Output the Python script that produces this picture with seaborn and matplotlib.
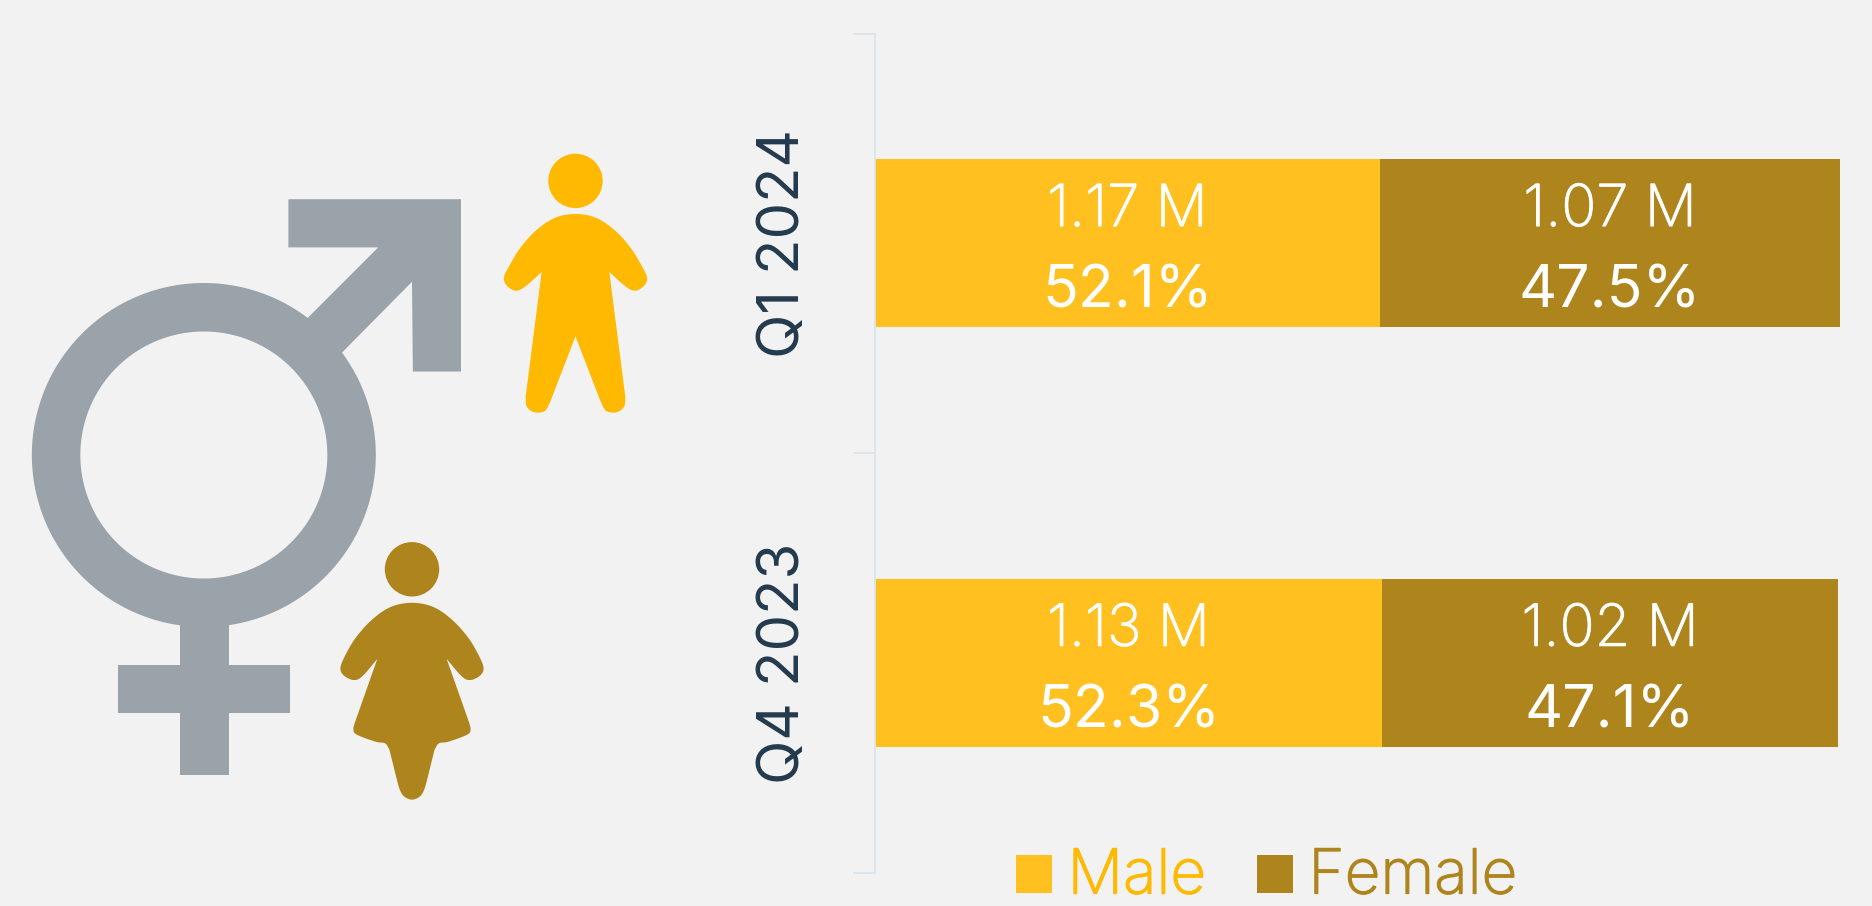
import numpy as np
import pandas as pd
import matplotlib
matplotlib.use("Agg")
import matplotlib.pyplot as plt
import matplotlib.patheffects as pe
from matplotlib.patches import Patch, Polygon, Circle, PathPatch
from matplotlib.path import Path
import seaborn as sns

periods = ["Q1 2024", "Q4 2023"]
male_pct = [52.1, 52.3]
female_pct = [47.5, 47.1]
male_m = [1.17, 1.13]
female_m = [1.07, 1.02]

BG = "#F2F2F2"
MALE = "#FFC020"
FEMALE = "#AE841C"
ICON_MALE = "#FFB900"
GREY = "#9BA3AA"
DARK = "#23394D"
AXIS = "#DAE5EE"
W, H = 1872, 906

sns.set_theme(style="white", rc={"figure.facecolor": BG, "axes.facecolor": "none"})
plt.rcParams["font.family"] = ["Inter", "DejaVu Sans"]
pt = lambda px: px * 0.72

fig = plt.figure(figsize=(W / 100, H / 100), dpi=100, facecolor=BG)

# ---- decoration layer, in pixel coordinates ----
deco = fig.add_axes([0, 0, 1, 1], zorder=0)
deco.set_xlim(0, W)
deco.set_ylim(H, 0)
deco.axis("off")

ZX, ZY = 680 / 1568, 700 / 1568
def zp(pts):
    a = np.asarray(pts, float)
    return np.c_[a[:, 0] * ZX, 130 + a[:, 1] * ZY]

def spline(pts, n=14, start=None, end=None):
    p = np.asarray(pts, float)
    if len(p) < 2:
        return p
    first = 2 * p[0] - p[1] if start is None else np.asarray(start, float)
    last = 2 * p[-1] - p[-2] if end is None else np.asarray(end, float)
    q = np.vstack([first, p, last])
    out = []
    for i in range(1, len(q) - 2):
        for t in np.linspace(0, 1, n, endpoint=False):
            out.append(0.5 * ((2 * q[i]) + (-q[i - 1] + q[i + 1]) * t
                       + (2 * q[i - 1] - 5 * q[i] + 4 * q[i + 1] - q[i + 2]) * t ** 2
                       + (-q[i - 1] + 3 * q[i] - 3 * q[i + 1] + q[i + 2]) * t ** 3))
    out.append(p[-1])
    return np.array(out)

def person(cx, segments, head_y, color, smooth_end=False):
    parts = []
    for k, s in enumerate(segments):
        st = (2 * cx - s[1][0], s[1][1]) if k == 0 else None
        en = (2 * cx - s[-2][0], s[-2][1]) if (smooth_end and k == len(segments) - 1) else None
        parts.append(spline(s, start=st, end=en))
    half = np.vstack(parts)
    mirror = half[::-1].copy()
    mirror[:, 0] = 2 * cx - mirror[:, 0]
    deco.add_patch(Polygon(zp(np.vstack([half, mirror])), closed=True, fc=color, ec="none"))
    c = zp([[cx, head_y]])[0]
    deco.add_patch(Circle(c, 27.2, fc=color, ec="none"))

# gender symbol: ring, arrow, cross
ring_c = zp([[470, 728]])[0]
t = np.linspace(0, 2 * np.pi, 240)
outer = np.c_[ring_c[0] + 172 * np.cos(t), ring_c[1] + 172 * np.sin(t)]
inner = np.c_[ring_c[0] + 123.5 * np.cos(-t), ring_c[1] + 123.5 * np.sin(-t)]
deco.add_patch(PathPatch(Path.make_compound_path(Path(outer, closed=True), Path(inner, closed=True)),
                         fc=GREY, ec="none"))
deco.add_patch(Polygon(zp([(665, 155), (1063, 155), (1063, 541), (952, 541), (950, 340), (775, 512),
                           (695, 435), (872, 263), (665, 263)]), closed=True, fc=GREY, ec="none"))
deco.add_patch(Polygon(zp([(415, 1090), (527, 1090), (527, 1198), (668, 1198), (668, 1306), (527, 1306),
                           (527, 1445), (415, 1445), (415, 1306), (272, 1306), (272, 1198), (415, 1198)]),
                       closed=True, fc=GREY, ec="none"))

person(1327, [[(1327, 188), (1375, 197), (1418, 225), (1455, 265), (1480, 305), (1492, 330), (1486, 348),
               (1465, 360), (1442, 350), (1405, 318)],
              [(1442, 598), (1440, 618), (1428, 630), (1412, 633), (1396, 628), (1384, 606)],
              [(1327, 462)]], 114, ICON_MALE)
person(950, [[(950, 1059), (998, 1068), (1040, 1095), (1078, 1135), (1103, 1175), (1115, 1205), (1107, 1222),
              (1085, 1232), (1065, 1224), (1030, 1185)],
             [(1082, 1328), (1085, 1342), (1078, 1354), (1035, 1370), (1012, 1374), (1002, 1388)],
             [(985, 1455), (978, 1478), (968, 1493), (950, 1500)]], 984, FEMALE, smooth_end=True)

# ---- chart ----
x0, x1, y_top, y_bot = 875, W, 33.5, 873
ax = fig.add_axes([x0 / W, 1 - y_bot / H, (x1 - x0) / W, (y_bot - y_top) / H], zorder=1)

df = pd.DataFrame({"period": periods, "Male": male_pct, "Female": female_pct})
df["total"] = df["Male"] + df["Female"]
sns.barplot(data=df, y="period", x="total", color=FEMALE, saturation=1, width=0.4, linewidth=0, ax=ax)
sns.barplot(data=df, y="period", x="Male", color=MALE, saturation=1, width=0.4, linewidth=0, ax=ax)

ax.set_xlim(0, (x1 - x0) / 9.69)
ax.set_ylim(1.5, -0.5)
ax.set_xlabel("")
ax.set_ylabel("")
ax.xaxis.set_visible(False)
for s in ["top", "right", "bottom"]:
    ax.spines[s].set_visible(False)
ax.spines["left"].set_color(AXIS)
ax.spines["left"].set_linewidth(pt(1.8))
ax.set_yticks([-0.5, 0.5, 1.5], minor=True)
ax.tick_params(axis="y", which="minor", length=pt(22), width=pt(1.8), color=AXIS, left=True)
ax.tick_params(axis="y", which="major", length=0, pad=pt(64))
for lab in ax.get_yticklabels():
    lab.set(rotation=90, va="center", ha="right", fontsize=pt(58), color=DARK, fontweight="normal")

for i in range(len(periods)):
    mx = male_pct[i] / 2
    fx = male_pct[i] + female_pct[i] / 2
    for xc, val, pct in [(mx, male_m[i], male_pct[i]), (fx, female_m[i], female_pct[i])]:
        ax.text(xc, i - 0.077, f"{val:.2f} M", ha="center", va="center", color="white",
                fontsize=pt(58), fontweight="light",
                path_effects=[pe.withStroke(linewidth=0.7, foreground="white")])
        ax.text(xc, i + 0.117, f"{pct:.1f}%", ha="center", va="center", color="white",
                fontsize=pt(59), fontweight="normal")

handles = [Patch(fc=MALE, ec="none", label="Male"), Patch(fc=FEMALE, ec="none", label="Female")]
leg = fig.legend(handles=handles, loc="lower left", bbox_to_anchor=(1016 / W, -0.5 / H),
                 ncol=2, frameon=False, prop={"size": pt(62), "weight": "light"},
                 labelcolor=[ICON_MALE, FEMALE], handlelength=0.58, handleheight=0.55,
                 handletextpad=0.25, columnspacing=0.82, borderpad=0, borderaxespad=0)
for p in leg.get_patches():
    p.set_y(p.get_y() - 1.7)
for txt, c in zip(leg.get_texts(), [ICON_MALE, FEMALE]):
    txt.set_path_effects([pe.withStroke(linewidth=0.9, foreground=c)])

fig.savefig("out.png", dpi=100, facecolor=BG)
